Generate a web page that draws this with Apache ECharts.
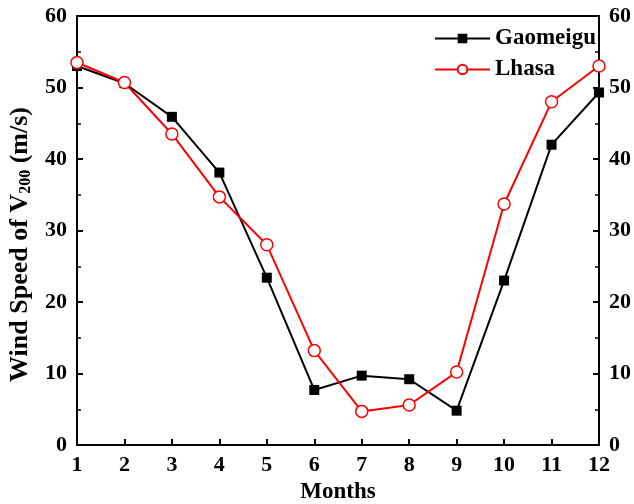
<!DOCTYPE html>
<html><head><meta charset="utf-8">
<script src="https://cdn.jsdelivr.net/npm/echarts@6/dist/echarts.min.js"></script>
<style>html,body{margin:0;padding:0;background:#fff}#c{width:634px;height:504px}</style>
</head><body><div id="c"></div>
<script>
const months = [1,2,3,4,5,6,7,8,9,10,11,12];
const gaomeigu = [53.0, 50.6, 45.9, 38.1, 23.4, 7.7, 9.7, 9.2, 4.8, 23.0, 42.0, 49.3];
const lhasa = [53.5, 50.7, 43.5, 34.7, 28.0, 13.2, 4.7, 5.6, 10.2, 33.7, 48.0, 53.0];
const yTicks = [0,10,20,30,40,50,60];

const font = 'Liberation Serif';
const chart = echarts.init(document.getElementById('c'));
const yCommon = {
  type: 'value', min: 0, max: 60, interval: 10,
  axisLine: {show: true, lineStyle: {color: '#000', width: 2}},
  axisTick: {show: true, inside: true, length: 6, lineStyle: {color: '#000', width: 2}},
  minorTick: {show: true, splitNumber: 2, length: 4, lineStyle: {color: '#000', width: 1.5}},
  splitLine: {show: false},
  axisLabel: {color: '#000', fontFamily: font, fontWeight: 'bold', fontSize: 22, margin: 10,
    formatter: v => yTicks.includes(v) ? String(v) : ''}
};
chart.setOption({
  animation: false,
  grid: {left: 77, right: 35, top: 16, bottom: 59, containLabel: false, outerBoundsMode: 'none'},
  legend: {
    left: 434, top: 27, padding: 0, orient: 'vertical', itemGap: 8, itemWidth: 55, itemHeight: 12,
    textStyle: {fontFamily: font, fontWeight: 'bold', fontSize: 23, color: '#000'},
    data: ['Gaomeigu', 'Lhasa']
  },
  xAxis: [{
    type: 'value', min: 1, max: 12, interval: 1,
    name: 'Months', nameLocation: 'middle', nameGap: 36,
    nameTextStyle: {fontFamily: font, fontWeight: 'bold', fontSize: 23, color: '#000'},
    axisLine: {show: true, onZero: false, lineStyle: {color: '#000', width: 2}},
    axisTick: {show: true, inside: true, length: 6, lineStyle: {color: '#000', width: 2}},
    splitLine: {show: false},
    axisLabel: {color: '#000', fontFamily: font, fontWeight: 'bold', fontSize: 22, margin: 9}
  }, {
    type: 'value', min: 1, max: 12, position: 'top',
    axisLine: {show: true, onZero: false, lineStyle: {color: '#000', width: 2}},
    axisTick: {show: false}, axisLabel: {show: false}, splitLine: {show: false}
  }],
  yAxis: [Object.assign({}, yCommon, {
    position: 'left',
    name: '{a|Wind Speed of V}{s|200}{a| (m/s)}', nameLocation: 'middle', nameGap: 42, nameRotate: 90,
    nameTextStyle: {padding: [0, 28, 0, 0], rich: {
      a: {fontFamily: font, fontWeight: 'bold', fontSize: 26, color: '#000'},
      s: {fontFamily: font, fontWeight: 'bold', fontSize: 16, color: '#000', verticalAlign: 'bottom', padding: [11,0,0,0]}
    }}
  }), Object.assign({}, yCommon, {position: 'right'})],
  series: [{
    name: 'Gaomeigu', type: 'line', xAxisIndex: 0, yAxisIndex: 0,
    data: months.map((m,i) => [m, gaomeigu[i]]),
    symbol: 'rect', symbolSize: 10,
    lineStyle: {color: '#000', width: 2}, itemStyle: {color: '#000'}
  }, {
    name: 'Lhasa', type: 'line', xAxisIndex: 0, yAxisIndex: 0,
    data: months.map((m,i) => [m, lhasa[i]]),
    symbol: 'circle', symbolSize: 12,
    lineStyle: {color: '#ff0000', width: 2},
    itemStyle: {color: '#fff', borderColor: '#ff0000', borderWidth: 1.5}
  }]
});
</script></body></html>
